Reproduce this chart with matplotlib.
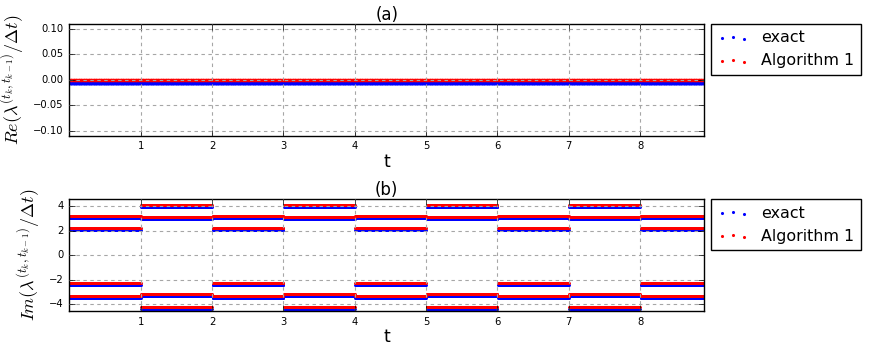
import numpy as np
import matplotlib
matplotlib.use("Agg")
import matplotlib.pyplot as plt

plt.style.use("classic")
plt.rcParams['font.family'] = ['DejaVu Sans']
plt.rcParams['mathtext.fontset'] = 'cm'

# segment boundaries in t
seg_edges = [0.0, 1.0, 2.0, 3.0, 4.0, 5.0, 6.0, 7.0, 8.0, 8.9]
dt_sample = 0.01

# Real parts (constant)
re_exact = -0.0060
re_alg = -0.0003

# Imag parts, segment type A ([0,1),[2,3),...) and B ([1,2),[3,4),...)
im_exact_A = [2.06, 3.00, -2.42, -3.47]
im_alg_A = [2.22, 3.19, -2.25, -3.30]
im_exact_B = [3.93, 2.93, -3.36, -4.40]
im_alg_B = [4.09, 3.10, -3.19, -4.24]

def build(valsA, valsB):
    ts, ys = [], []
    for i in range(len(seg_edges) - 1):
        t = np.arange(seg_edges[i] + dt_sample, seg_edges[i + 1] + 1e-9, dt_sample)
        vals = valsA if i % 2 == 0 else valsB
        for v in vals:
            ts.append(t)
            ys.append(np.full_like(t, v))
    return np.concatenate(ts), np.concatenate(ys)

t_all = np.arange(dt_sample, seg_edges[-1] + 1e-9, dt_sample)

fig = plt.figure(figsize=(8.69, 3.52), dpi=100, facecolor='white')
ax1 = fig.add_axes([0.0797, 0.6145, 0.7307, 0.3173])
ax2 = fig.add_axes([0.0797, 0.1156, 0.7307, 0.3182])

ax1.scatter(t_all, np.full_like(t_all, re_exact), c='b', s=7, marker='o', linewidths=0, label='exact')
ax1.scatter(t_all, np.full_like(t_all, re_alg), c='r', s=6, marker='o', linewidths=0, label='Algorithm 1')

te, ye = build(im_exact_A, im_exact_B)
ta, ya = build(im_alg_A, im_alg_B)
kw = dict(s=4.5, marker='o', linewidths=0)
ax2.scatter(te, ye, c='b', label='exact', **kw)
ax2.scatter(ta, ya, c='r', label='Algorithm 1', **kw)

for ax in (ax1, ax2):
    ax.set_xlim(0, 8.9)
    ax.set_xticks([1, 2, 3, 4, 5, 6, 7, 8])
    ax.grid(True, color='0.65', linestyle=(0, (2.5, 2.5)), linewidth=0.8)
    ax.tick_params(labelsize=7.2)
    ax.set_xlabel('t', fontsize=12.5, labelpad=1)
    leg = ax.legend(loc='upper left', bbox_to_anchor=(1.01, 1.0), borderaxespad=0,
                    scatterpoints=3, fontsize=11.4, fancybox=False)
    for h in leg.legend_handles:
        h.set_sizes([5])

ax1.set_ylim(-0.11, 0.11)
ax1.set_yticks([-0.10, -0.05, 0.0, 0.05, 0.10])
ax1.set_title('(a)', fontsize=12, pad=3)
ax1.set_ylabel(r'$Re(\lambda^{(t_k,t_{k-1})}/\Delta t)$', fontsize=13)

ax2.set_ylim(-4.58, 4.55)
ax2.set_yticks([-4, -2, 0, 2, 4])
ax2.set_title('(b)', fontsize=12, pad=3)
ax2.set_ylabel(r'$Im(\lambda^{(t_k,t_{k-1})}/\Delta t)$', fontsize=13)

fig.savefig('out.png', dpi=100, facecolor='white')
